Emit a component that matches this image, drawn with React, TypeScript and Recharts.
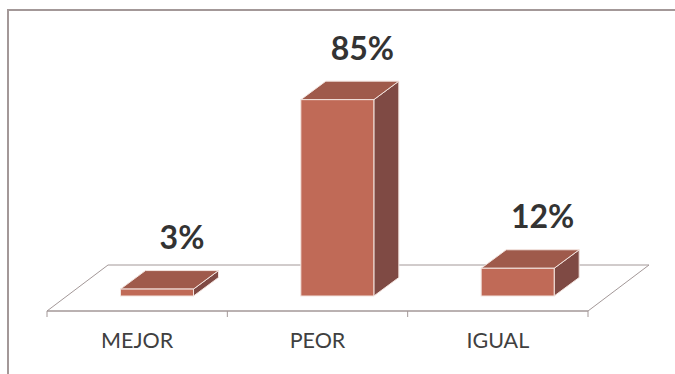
import { Bar, BarChart, Customized, LabelList, XAxis, YAxis } from 'recharts';

const categories = ['MEJOR', 'PEOR', 'IGUAL'];
const percentages = [3, 85, 12];

const data = categories.map((name, i) => ({ name, value: percentages[i] }));

const WIDTH = 675;
const HEIGHT = 374;
const MARGIN = { top: 80, right: 87, bottom: 0, left: 47 };
const X_AXIS_HEIGHT = 63;

// floor geometry (follows the plot area)
const PLOT_LEFT = MARGIN.left;
const PLOT_RIGHT = WIDTH - MARGIN.right;
const FLOOR_Y = HEIGHT - MARGIN.bottom - X_AXIS_HEIGHT;
const FLOOR_DX = 61;
const FLOOR_DY = 46;
const BAND = (PLOT_RIGHT - PLOT_LEFT) / categories.length;

// bars sit mid-depth on the floor
const SHIFT_X = 19.5;
const SHIFT_Y = 15;
const DEPTH_X = 25;
const DEPTH_Y = 18.5;

const FRONT = '#c06a57';
const TOP = '#9f5a4b';
const SIDE = '#7f4a44';
const EDGE = '#f3e4df';
const LINE = '#a39898';

function Floor() {
  const pts = [
    [PLOT_LEFT, FLOOR_Y],
    [PLOT_RIGHT, FLOOR_Y],
    [PLOT_RIGHT + FLOOR_DX, FLOOR_Y - FLOOR_DY],
    [PLOT_LEFT + FLOOR_DX, FLOOR_Y - FLOOR_DY],
  ]
    .map((p) => p.join(','))
    .join(' ');
  return <polygon points={pts} fill="#fff" stroke={LINE} strokeWidth={1} />;
}

function Box3D(props: any) {
  const { x, y, width, height } = props;
  if (height == null || width == null) return null;
  const fx = x + SHIFT_X;
  const fy = y - SHIFT_Y;
  const w = width;
  const h = height;
  const pts = (arr: number[][]) => arr.map((p) => p.join(',')).join(' ');
  return (
    <g>
      <polygon
        points={pts([
          [fx + w, fy],
          [fx + w + DEPTH_X, fy - DEPTH_Y],
          [fx + w + DEPTH_X, fy + h - DEPTH_Y],
          [fx + w, fy + h],
        ])}
        fill={SIDE}
        stroke={EDGE}
        strokeWidth={1}
      />
      <polygon
        points={pts([
          [fx, fy],
          [fx + DEPTH_X, fy - DEPTH_Y],
          [fx + w + DEPTH_X, fy - DEPTH_Y],
          [fx + w, fy],
        ])}
        fill={TOP}
        stroke={EDGE}
        strokeWidth={1}
      />
      <rect x={fx} y={fy} width={w} height={h} fill={FRONT} stroke={EDGE} strokeWidth={1} />
    </g>
  );
}

function ValueLabel(props: any) {
  const { x, y, width, value } = props;
  return (
    <text
      x={x + width / 2 + SHIFT_X + DEPTH_X}
      y={y - SHIFT_Y - 40}
      textAnchor="middle"
      fontFamily="Lato, 'Open Sans', sans-serif"
      fontWeight={700}
      fontSize={32}
      fill="#333333"
    >
      {`${value}%`}
    </text>
  );
}

function CategoryTick(props: any) {
  const { x, payload, index } = props;
  const last = index === categories.length - 1;
  return (
    <g>
      <line x1={x - BAND / 2} y1={FLOOR_Y} x2={x - BAND / 2} y2={FLOOR_Y + 6} stroke={LINE} />
      {last && (
        <line x1={x + BAND / 2} y1={FLOOR_Y} x2={x + BAND / 2} y2={FLOOR_Y + 6} stroke={LINE} />
      )}
      <text
        x={x}
        y={FLOOR_Y + 37}
        textAnchor="middle"
        fontFamily="Lato, 'Open Sans', sans-serif"
        fontSize={21.5}
        fill="#404040"
      >
        {payload.value}
      </text>
    </g>
  );
}

export default function App() {
  return (
    <div
      style={{
        position: 'relative',
        width: WIDTH,
        height: HEIGHT,
        overflow: 'hidden',
        background: '#fff',
      }}
    >
      <style>{'html,body{margin:0;overflow:hidden;}'}</style>
      <div
        style={{
          position: 'absolute',
          left: 7,
          top: 9,
          width: 720,
          height: 420,
          borderLeft: `2px solid ${LINE}`,
          borderTop: `2px solid ${LINE}`,
        }}
      />
      <div style={{ position: 'absolute', left: 0, top: 0 }}>
        <BarChart width={WIDTH} height={HEIGHT} data={data} margin={MARGIN}>
          <Customized component={<Floor />} />
          <XAxis
            dataKey="name"
            height={X_AXIS_HEIGHT}
            axisLine={{ stroke: LINE }}
            tickLine={false}
            tick={<CategoryTick />}
            interval={0}
          />
          <YAxis hide domain={[0, 100]} />
          <Bar dataKey="value" barSize={73} shape={<Box3D />} isAnimationActive={false}>
            <LabelList dataKey="value" content={<ValueLabel />} />
          </Bar>
        </BarChart>
      </div>
    </div>
  );
}
